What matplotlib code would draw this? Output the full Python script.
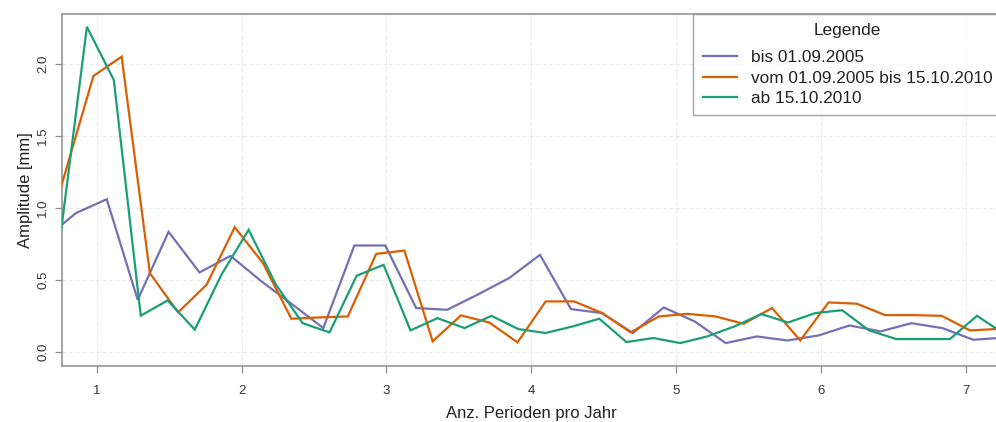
import matplotlib
matplotlib.use("Agg")
import matplotlib.pyplot as plt

plt.rcParams['font.family'] = ['Liberation Sans', 'DejaVu Sans']

# ---- data ----
freq_bis2005 = [0.641, 0.855, 1.069, 1.283, 1.496, 1.710, 1.924, 2.138, 2.351, 2.565,
                2.779, 2.993, 3.206, 3.420, 3.634, 3.848, 4.061, 4.275, 4.489, 4.703,
                4.916, 5.130, 5.344, 5.558, 5.771, 5.985, 6.199, 6.413, 6.626, 6.840,
                7.054, 7.268]
amp_bis2005 = [0.784, 0.963, 1.060, 0.362, 0.834, 0.552, 0.667, 0.49, 0.33, 0.166,
               0.739, 0.739, 0.305, 0.293, 0.40, 0.513, 0.674, 0.298, 0.27, 0.132,
               0.309, 0.212, 0.062, 0.108, 0.08, 0.115, 0.184, 0.143, 0.2, 0.166,
               0.085, 0.10]

freq_2005_2010 = [0.586, 0.781, 0.977, 1.172, 1.367, 1.562, 1.758, 1.953, 2.148, 2.344,
                  2.539, 2.734, 2.930, 3.125, 3.320, 3.515, 3.711, 3.906, 4.101, 4.297,
                  4.492, 4.687, 4.883, 5.078, 5.273, 5.468, 5.664, 5.859, 6.054, 6.250,
                  6.445, 6.640, 6.836, 7.031, 7.226]
amp_2005_2010 = [0.57, 1.24, 1.915, 2.049, 0.547, 0.275, 0.466, 0.866, 0.617, 0.231,
                 0.24, 0.247, 0.681, 0.704, 0.074, 0.254, 0.205, 0.067, 0.351, 0.351,
                 0.27, 0.136, 0.247, 0.265, 0.247, 0.196, 0.305, 0.08, 0.344, 0.335,
                 0.256, 0.256, 0.251, 0.15, 0.16]

freq_ab2010 = [0.745, 0.932, 1.118, 1.304, 1.490, 1.677, 1.863, 2.049, 2.236, 2.422,
               2.608, 2.795, 2.981, 3.167, 3.353, 3.540, 3.726, 3.912, 4.099, 4.285,
               4.471, 4.658, 4.844, 5.030, 5.216, 5.403, 5.589, 5.775, 5.962, 6.148,
               6.334, 6.521, 6.707, 6.893, 7.079, 7.266]
amp_ab2010 = [0.77, 2.256, 1.887, 0.252, 0.358, 0.155, 0.54, 0.848, 0.47, 0.2,
              0.136, 0.529, 0.605, 0.15, 0.235, 0.166, 0.251, 0.159, 0.132, 0.177,
              0.231, 0.069, 0.097, 0.062, 0.108, 0.177, 0.263, 0.205, 0.27, 0.29,
              0.15, 0.09, 0.09, 0.09, 0.251, 0.127]

labels = ["bis 01.09.2005", "vom 01.09.2005 bis 15.10.2010", "ab 15.10.2010"]
colors = ["#7570B3", "#D95F02", "#1B9E77"]
x_ticks = [1, 2, 3, 4, 5, 6, 7]
y_ticks = [0.0, 0.5, 1.0, 1.5, 2.0]

# ---- figure ----
W, H = 996, 422
fig = plt.figure(figsize=(W / 100, H / 100), dpi=100)
left, right, bottom, top = 61.7, 1001.7, 366, 14
ax = fig.add_axes([left / W, (H - bottom) / H, (right - left) / W, (bottom - top) / H])

gray = "#8c8c8c"
for x, y, lab, c in zip([freq_bis2005, freq_2005_2010, freq_ab2010],
                        [amp_bis2005, amp_2005_2010, amp_ab2010], labels, colors):
    ax.plot(x, y, color=c, lw=1.6, label=lab, solid_joinstyle='miter', zorder=3)

ax.set_xlim(0.758, 7.25)
ax.set_ylim(-0.097, 2.345)
ax.set_xticks(x_ticks)
ax.set_xticklabels([str(t) for t in x_ticks])
ax.set_yticks(y_ticks)
ax.set_yticklabels([f"{t:.1f}" for t in y_ticks])
for lbl in ax.get_yticklabels():
    lbl.set_rotation(90)
    lbl.set_va('center')

ax.grid(True, color="#ebebeb", lw=0.8, linestyle=(0, (4, 2)), zorder=0)
for s in ax.spines.values():
    s.set_color(gray)
    s.set_linewidth(1.1)
ax.tick_params(axis='both', colors=gray, length=5, width=0.9, labelsize=9.5,
               labelcolor="#333333")
ax.tick_params(axis='x', pad=9)
ax.tick_params(axis='y', pad=4)

ax.set_xlabel("Anz. Perioden pro Jahr", fontsize=12, color="#222222", labelpad=6)
ax.set_ylabel("Amplitude [mm]", fontsize=12, color="#222222", labelpad=3)

leg = ax.legend(loc='upper right', bbox_to_anchor=(1, 1), borderaxespad=0,
                title="Legende", fontsize=12.4, title_fontsize=12.4, fancybox=False,
                frameon=True, handlelength=2.0, handletextpad=0.78, labelspacing=0.3,
                borderpad=0.55)
leg._legend_box.sep = 8.5
leg.get_frame().set_edgecolor(gray)
leg.get_frame().set_linewidth(1.0)
for t in leg.get_texts():
    t.set_color("#222222")
leg.get_title().set_color("#222222")

fig.savefig("out.png", dpi=100)
